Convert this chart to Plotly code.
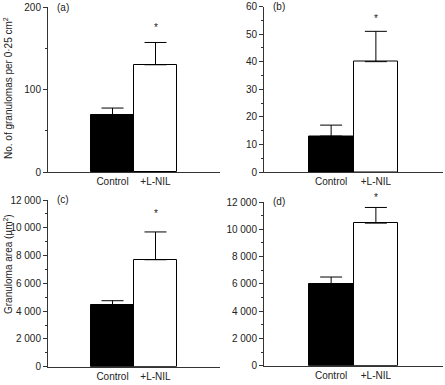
import plotly.graph_objects as go

categories = ["Control", "+L-NIL"]

# panel values
a_vals = [68.5, 130]
a_err = [9, 27]
b_vals = [13, 40]
b_err = [4, 11]
c_vals = [4450, 7700]
c_err = [300, 2000]
d_vals = [6000, 10450]
d_err = [500, 1150]

panel_labels = ["(a)", "(b)", "(c)", "(d)"]
y_ranges = [[0, 200], [0, 60], [0, 12000], [0, 12000]]
y_dtick = [100, 10, 2000, 2000]
y_minor = [50, 5, 1000, 1000]

W, H = 445, 385
FONT = "Liberation Sans, Arial, Helvetica, sans-serif"

# pixel geometry
panels = [
    dict(x0=48, x1=220, ytop=7, ybot=172),
    dict(x0=264, x1=443, ytop=6.5, ybot=172),
    dict(x0=48, x1=220, ytop=200, ybot=366.7),
    dict(x0=264, x1=443, ytop=202, ybot=365.7),
]
star_shift = [15, 13, 18, 10]

data = [(a_vals, a_err), (b_vals, b_err), (c_vals, c_err), (d_vals, d_err)]

fig = go.Figure()
axis_color = "#333333"
layout = dict(
    width=W, height=H, margin=dict(l=0, r=0, t=0, b=0, autoexpand=False),
    paper_bgcolor="white", plot_bgcolor="white",
    showlegend=False, separators=". ", bargap=0,
    font=dict(family=FONT, size=10, color="#222222"),
)
annotations = []
for i, (p, (vals, errs)) in enumerate(zip(panels, data)):
    xa = "x" if i == 0 else f"x{i+1}"
    ya = "y" if i == 0 else f"y{i+1}"
    xkey = "xaxis" if i == 0 else f"xaxis{i+1}"
    ykey = "yaxis" if i == 0 else f"yaxis{i+1}"
    fig.add_trace(go.Bar(
        x=[0, 1], y=vals, width=1,
        marker=dict(color=["black", "white"], line=dict(color="black", width=1)),
        error_y=dict(type="data", symmetric=False, array=errs, arrayminus=[0, 0],
                     color="black", thickness=1, width=11),
        xaxis=xa, yaxis=ya,
    ))
    layout[xkey] = dict(
        domain=[p["x0"] / W, p["x1"] / W], range=[-1.5, 2.5],
        anchor=ya, showline=True, linecolor=axis_color, linewidth=1,
        tickvals=[0, 1], ticktext=categories, ticks="", showgrid=False,
        zeroline=False, tickfont=dict(size=10, color="#222222"),
        fixedrange=True, ticklabeloverflow="allow",
    )
    layout[ykey] = dict(
        domain=[(H - p["ybot"]) / H, (H - p["ytop"]) / H], range=y_ranges[i],
        anchor=xa, showline=True, linecolor=axis_color, linewidth=1,
        ticks="outside", ticklen=4, tickcolor=axis_color, dtick=y_dtick[i],
        tickformat=",", showgrid=False, zeroline=False,
        tickfont=dict(size=10, color="#222222"), ticklabeloverflow="allow",
        minor=dict(dtick=y_minor[i], ticks="outside", ticklen=2, tickcolor=axis_color,
                   showgrid=False),
    )
    # panel label
    annotations.append(dict(
        text=panel_labels[i], xref="paper", yref="paper",
        x=(p["x0"] + 7) / W, y=(H - p["ytop"]) / H, xanchor="left", yanchor="middle",
        showarrow=False, font=dict(size=10, color="#222222"),
    ))
    # asterisk
    annotations.append(dict(
        text="*", xref=xa, yref=ya, x=1, y=vals[1] + errs[1], yshift=star_shift[i],
        showarrow=False, font=dict(size=10, color="#222222"), yanchor="middle",
        xanchor="center",
    ))

annotations.append(dict(
    text="No. of granulomas per 0·25 cm<sup>2</sup>", xref="paper", yref="paper",
    x=8 / W, y=(H - 88) / H, textangle=-90, showarrow=False,
    xanchor="center", yanchor="middle",
    font=dict(size=10, color="#222222"),
))
annotations.append(dict(
    text="Granuloma area (μm<sup>2</sup>)", xref="paper", yref="paper",
    x=8 / W, y=(H - 264) / H, textangle=-90, showarrow=False,
    xanchor="center", yanchor="middle",
    font=dict(size=10, color="#222222"),
))
layout["annotations"] = annotations
fig.update_layout(**layout)
fig.write_html(
    "out.html",
    config={"displayModeBar": False},
    post_script="document.body.style.margin='0';document.body.style.overflow='hidden';",
)
